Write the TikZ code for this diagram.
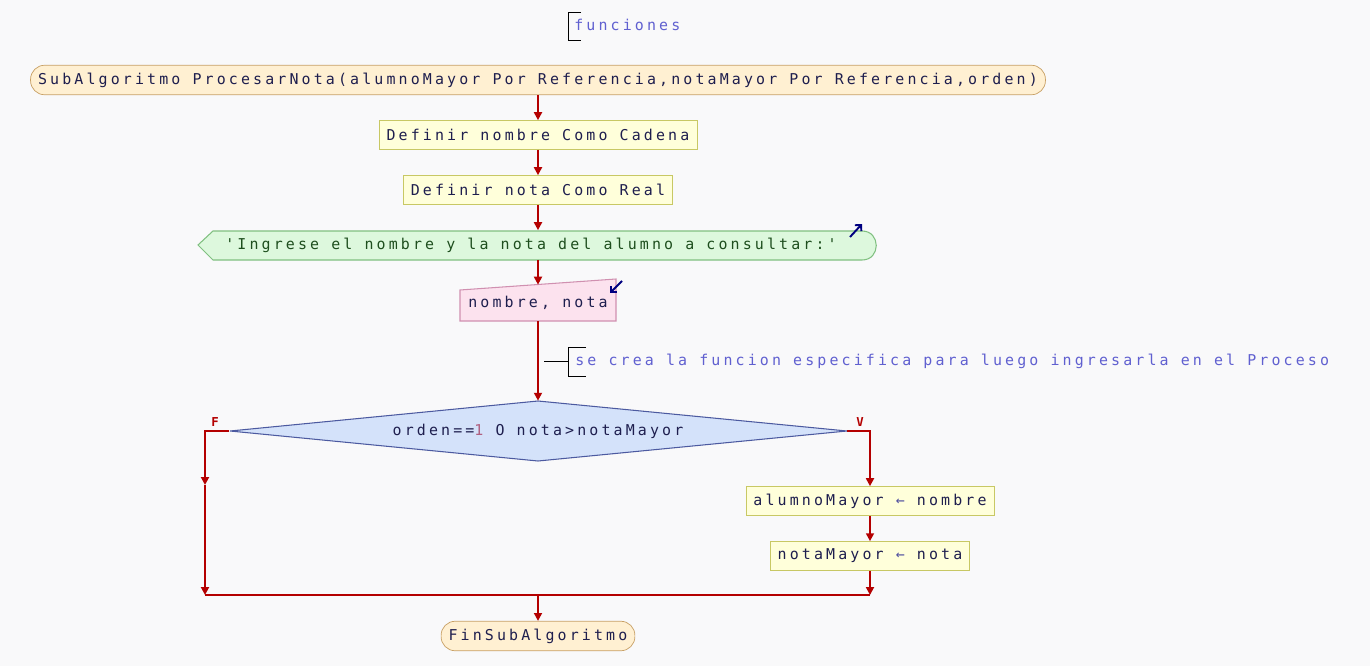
\documentclass[tikz,border=0pt]{standalone}
\usepackage{fontspec}
\usepackage{tikz}
\usetikzlibrary{arrows.meta,positioning}

\newfontfamily\psefont[LetterSpace=21]{DejaVu Sans Mono}

\definecolor{fondo}{HTML}{F9F9FA}
\definecolor{tinta}{HTML}{1E1E4E}
\definecolor{rojo}{HTML}{B40000}
\definecolor{termfondo}{HTML}{FFF0D2}
\definecolor{termborde}{HTML}{C8A064}
\definecolor{procfondo}{HTML}{FFFFDA}
\definecolor{procborde}{HTML}{C8C864}
\definecolor{salfondo}{HTML}{DDF8DD}
\definecolor{salborde}{HTML}{80C080}
\definecolor{saltexto}{HTML}{1E4E1E}
\definecolor{entfondo}{HTML}{FCE2EE}
\definecolor{entborde}{HTML}{D090B0}
\definecolor{decfondo}{HTML}{D4E2FA}
\definecolor{decborde}{HTML}{4C5AA0}
\definecolor{comtexto}{HTML}{6060D0}
\definecolor{numero}{HTML}{B06080}
\definecolor{asigna}{HTML}{5050A0}
\definecolor{icono}{HTML}{000080}

\begin{document}
\begin{tikzpicture}[x=0.02cm,y=-0.02cm,>={Triangle[length=4.5pt,width=4.5pt]},
    texto/.style={font=\psefont\fontsize{8.5}{10}\selectfont,text=tinta,inner xsep=0.15cm},
    terminal/.style={texto,draw=termborde,fill=termfondo,rounded corners=8pt,minimum height=0.59cm},
    proceso/.style={texto,draw=procborde,fill=procfondo,minimum height=0.58cm},
    comentario/.style={texto,text=comtexto,anchor=west,inner xsep=0pt},
    etiqueta/.style={font=\psefont\fontsize{7}{8}\selectfont\bfseries,text=rojo},
    flujo/.style={draw=rojo,line width=1.1pt},
    corchete/.style={draw=black,line width=0.5pt},
    icon arrow/.style={draw=icono,line width=1.1pt,-{Straight Barb[length=2.5pt,width=5pt]}}]

  \fill[fondo] (0,0) rectangle (1370,666);
  \useasboundingbox (0,0) rectangle (1370,666);

  % comentario de cabecera
  \node[comentario] (comfun) at (574,25) {funciones};
  \draw[corchete] (581,12) -- (568,12) -- (568,40) -- (581,40);

  \node[terminal] (inicio) at (538,80) {SubAlgoritmo ProcesarNota(alumnoMayor Por Referencia,notaMayor Por Referencia,orden)};
  \node[proceso] (def1) at (538,135) {Definir nombre Como Cadena};
  \node[proceso] (def2) at (538,190) {Definir nota Como Real};

  % salida (escribir)
  \filldraw[draw=salborde,fill=salfondo,line width=0.6pt]
    (213,231) -- (862,231) .. controls (881,231) and (881,260) .. (862,260) -- (213,260) -- (198,245) -- cycle;
  \node[texto,text=saltexto,minimum height=0.58cm] (salida) at (531,245) {'Ingrese el nombre y la nota del alumno a consultar:'};
  \draw[icon arrow] (850,237) -- (862,224);

  % entrada (leer)
  \filldraw[draw=entborde,fill=entfondo,line width=0.6pt]
    (460,290) -- (616,279) -- (616,321) -- (460,321) -- cycle;
  \node[texto,minimum height=0.72cm] (entrada) at (538,303) {nombre, nota};
  \draw[icon arrow] (622,281) -- (610,293);

  % comentario
  \node[comentario] (comfuncion) at (575,361) {se crea la funcion especifica para luego ingresarla en el Proceso};
  \draw[corchete] (544,361) -- (568,361);
  \draw[corchete] (586,347) -- (568,347) -- (568,376) -- (586,376);

  % decision
  \filldraw[draw=decborde,fill=decfondo,line width=0.6pt]
    (230,431) -- (538,401) -- (847,431) -- (538,461) -- cycle;
  \node[texto,minimum width=12.34cm,minimum height=1.2cm,inner sep=0pt] (cond) at (538,431) {orden==\textcolor{numero}{1} O nota>notaMayor};
  \node[etiqueta] (lf) at (215,422) {F};
  \node[etiqueta] (lv) at (860,422) {V};

  \node[proceso] (asig1) at (870,501) {alumnoMayor \textcolor{asigna}{←} nombre};
  \node[proceso] (asig2) at (870,556) {notaMayor \textcolor{asigna}{←} nota};

  \node[terminal] (fin) at (538,636) {FinSubAlgoritmo};

  \coordinate (ramaF) at (205,485);
  \coordinate (uneF) at (205,595);
  \coordinate (uneV) at (870,595);
  \coordinate (une) at (538,595);

  \path[every edge/.style={flujo,->}]
    (inicio) edge (def1)
    (def1) edge (def2)
    (def2) edge (def2 |- salida.north)
    (salida.south -| entrada) edge (entrada)
    (entrada) edge (cond)
    (asig1) edge (asig2)
    (asig2) edge (uneV)
    (ramaF) edge (uneF)
    (une) edge (fin);
  \draw[flujo,->] (cond.west) -| (ramaF);
  \draw[flujo,->] (cond.east) -| (asig1.north);
  \draw[flujo] (uneF) -- (uneV);
\end{tikzpicture}
\end{document}
